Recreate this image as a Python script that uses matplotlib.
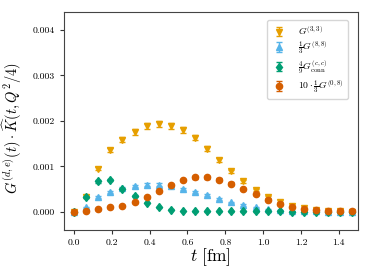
import numpy as np
import matplotlib
matplotlib.use("Agg")
from matplotlib import pyplot as plt

plt.rcParams['font.family'] = 'serif'
plt.rcParams['font.serif'] = ['cmr10']
plt.rcParams['mathtext.fontset'] = 'cm'
plt.rcParams['axes.formatter.use_mathtext'] = True

# lattice times in fm
a = 0.064
t = a * np.arange(24)

g33 = [0.0, 0.00033, 0.000945, 0.00136, 0.00158, 0.00176, 0.00188, 0.00193,
       0.00189, 0.0018, 0.00163, 0.00139, 0.00114, 0.00089, 0.00067, 0.00048,
       0.00032, 0.00021, 0.000125, 0.000075, 0.00004, 0.00002, 0.00001, 0.000005]
g88 = [0.0, 0.0001, 0.00032, 0.00044, 0.00053, 0.00057, 0.0006, 0.0006,
       0.00057, 0.00051, 0.00044, 0.00037, 0.00028, 0.00021, 0.00015, 0.0001,
       0.00006, 0.00004, 0.00002, 0.00001, 0.00001, 0.000005, 0.0, 0.0]
gconn = [0.0, 0.00033, 0.00067, 0.0007, 0.00051, 0.00035, 0.0002, 0.0001,
         0.00005, 0.00002, 0.00001, 0.00001, 0.00001, 0.00001, 0.00001, 0.00001,
         0.00001, 0.00001, 0.0, 0.0, 0.0, 0.0, 0.0, 0.0]
g08 = [0.0, 0.00001, 0.00006, 0.0001, 0.00013, 0.00021, 0.00032, 0.00045,
       0.00059, 0.0007, 0.00076, 0.00076, 0.00071, 0.00062, 0.0005, 0.00039,
       0.00027, 0.00018, 0.00011, 0.00006, 0.00004, 0.00002, 0.00001, 0.00001]

err_scale = 0.03

series = [
    (g33, 'v', '#E69F00', r'$G^{(3,3)}$'),
    (g88, '^', '#56B4E9', r'$\frac{1}{3}G^{(8,8)}$'),
    (gconn, 'd', '#009E73', r'$\frac{4}{9}G^{(c,c)}_{\rm conn}$'),
    (g08, 'o', '#D55E00', r'$10\cdot\frac{1}{3}G^{(0,8)}$'),
]

fig = plt.figure(figsize=(3.69, 2.77), dpi=100)
ax = fig.add_axes([0.1734, 0.1697, 0.796, 0.788])

for vals, mk, col, lab in series:
    vals = np.array(vals)
    ax.errorbar(t, vals, yerr=np.abs(vals) * err_scale + 0.000008, fmt=mk,
                color=col, ms=4.5, capsize=2, elinewidth=1, label=lab)

ax.set_xlim(-0.053, 1.50)
ax.set_ylim(-0.0004, 0.0044)
ax.set_xticks([0.0, 0.2, 0.4, 0.6, 0.8, 1.0, 1.2, 1.4])
ax.set_yticks([0.0, 0.001, 0.002, 0.003, 0.004])
ax.set_xticklabels(['0.0', '0.2', '0.4', '0.6', '0.8', '1.0', '1.2', '1.4'])
ax.set_yticklabels(['0.000', '0.001', '0.002', '0.003', '0.004'])
ax.tick_params(labelsize=7, length=3, color='#333333')
for sp in ax.spines.values():
    sp.set_color('#444444')

ax.set_xlabel(r'$t\ [\mathrm{fm}]$', fontsize=12.5)
ax.set_ylabel(r'$G^{(d,e)}(t)\cdot\widehat{K}(t,Q^2/4)$', fontsize=10.4)
ax.xaxis.set_label_coords(0.497, -0.075)
ax.yaxis.set_label_coords(-0.135, 0.467)

ax.legend(loc='upper right', fontsize=7, handletextpad=1.2, labelspacing=0.3,
          borderpad=0.45, handlelength=1.6, framealpha=0.8,
          bbox_to_anchor=(0.985, 0.985))

fig.savefig('out.png', dpi=100)
